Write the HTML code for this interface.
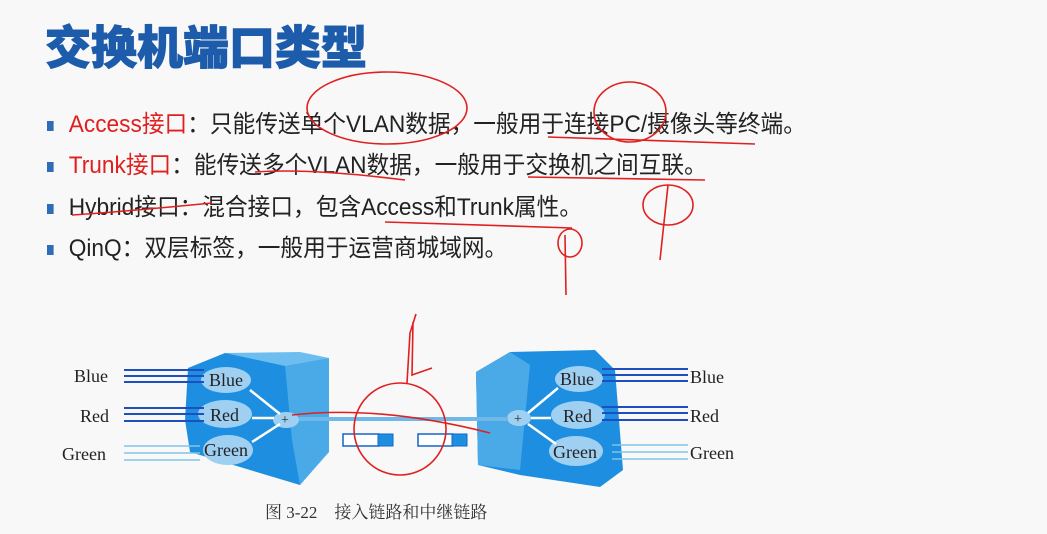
<!DOCTYPE html>
<html><head><meta charset="utf-8"><style>
body{margin:0;width:1047px;height:534px;background:#f8f8f8;overflow:hidden;position:relative;font-family:"Liberation Sans","Noto Sans CJK SC",sans-serif}
.t{position:absolute;left:45px;top:12px;font-size:46px;font-weight:900;color:#1d5bab;letter-spacing:0px;-webkit-text-stroke:1px #1d5bab}
.b{position:absolute;left:47px;font-size:24px;color:#222;white-space:nowrap;transform:scaleX(0.945);transform-origin:left}
.b i{display:inline-block;width:7px;height:10px;background:#2f6db8;margin-right:16px;vertical-align:middle}
.r{color:#e02020}
svg{position:absolute;left:0;top:0}
</style></head><body>
<div class="t">交换机端口类型</div>
<div class="b" style="top:104px"><i></i><span class="r">Access接口</span>：只能传送单个VLAN数据，一般用于连接PC/摄像头等终端。</div>
<div class="b" style="top:145px"><i></i><span class="r">Trunk接口</span>：能传送多个VLAN数据，一般用于交换机之间互联。</div>
<div class="b" style="top:187px"><i></i>Hybrid接口：混合接口，包含Access和Trunk属性。</div>
<div class="b" style="top:228px"><i></i>QinQ：双层标签，一般用于运营商城域网。</div>
<svg width="1047" height="534" font-family="Liberation Serif,serif">
<polygon points="188,368 225,353 300,356 329,362 329,450 300,485 250,470 190,452 185,420" fill="#1e8fe0"/>
<polygon points="285,365 329,358 329,452 300,485 292,440" fill="#4aaae8"/>
<polygon points="225,353 300,352 329,358 285,366" fill="#6dbdf0"/>
<polygon points="476,372 510,352 595,350 615,370 623,470 600,487 520,475 478,465" fill="#1e8fe0"/>
<polygon points="476,372 510,352 530,365 520,470 478,465" fill="#4aaae8"/>
<g fill="#9fd0f2">
<ellipse cx="226" cy="380" rx="25" ry="13"/><ellipse cx="225" cy="414" rx="27" ry="14"/><ellipse cx="228" cy="450" rx="25" ry="15"/>
<ellipse cx="579" cy="379" rx="24" ry="13"/><ellipse cx="578" cy="415" rx="27" ry="14"/><ellipse cx="576" cy="451" rx="27" ry="15"/>
<ellipse cx="286" cy="420" rx="13" ry="8"/><ellipse cx="519" cy="418" rx="12" ry="8"/>
</g>
<g stroke="#fff" stroke-width="2.5"><line x1="250" y1="390" x2="280" y2="414"/><line x1="252" y1="418" x2="274" y2="418"/><line x1="252" y1="442" x2="280" y2="424"/>
<line x1="528" y1="413" x2="558" y2="388"/><line x1="531" y1="418" x2="551" y2="418"/><line x1="528" y1="424" x2="556" y2="444"/></g>
<line x1="299" y1="419" x2="508" y2="419" stroke="#6fb8e8" stroke-width="4"/>
<g font-size="18" fill="#222"><text x="209" y="386">Blue</text><text x="210" y="421">Red</text><text x="204" y="456">Green</text>
<text x="560" y="385">Blue</text><text x="563" y="422">Red</text><text x="553" y="458">Green</text>
<text x="281" y="424" font-size="14">+</text><text x="514" y="423" font-size="14">+</text>
<text x="74" y="382">Blue</text><text x="80" y="422">Red</text><text x="62" y="460">Green</text>
<text x="690" y="383">Blue</text><text x="690" y="422">Red</text><text x="690" y="459">Green</text></g>
<g stroke="#1d4fc0" stroke-width="2"><line x1="124" y1="370" x2="204" y2="370"/><line x1="124" y1="376" x2="204" y2="376"/><line x1="124" y1="382" x2="204" y2="382"/>
<line x1="124" y1="408" x2="204" y2="408"/><line x1="124" y1="414" x2="204" y2="414"/><line x1="124" y1="421" x2="204" y2="421"/>
<line x1="602" y1="369" x2="688" y2="369"/><line x1="602" y1="375" x2="688" y2="375"/><line x1="602" y1="381" x2="688" y2="381"/>
<line x1="602" y1="407" x2="688" y2="407"/><line x1="602" y1="413" x2="688" y2="413"/><line x1="602" y1="420" x2="688" y2="420"/></g>
<g stroke="#7fc4e8" stroke-width="1.5"><line x1="124" y1="446" x2="200" y2="446"/><line x1="124" y1="453" x2="200" y2="453"/><line x1="124" y1="460" x2="200" y2="460"/>
<line x1="612" y1="445" x2="688" y2="445"/><line x1="612" y1="452" x2="688" y2="452"/><line x1="612" y1="459" x2="688" y2="459"/></g>
<g stroke="#1565c8" stroke-width="1.5" fill="#fff">
<rect x="343" y="434" width="36" height="12"/><rect x="418" y="434" width="35" height="12"/></g>
<rect x="378" y="434" width="15" height="12" fill="#1e8fe0" stroke="#1565c8"/><rect x="452" y="434" width="15" height="12" fill="#1e8fe0" stroke="#1565c8"/>
<text x="265" y="518" font-size="17" fill="#333" font-family="Liberation Serif,Noto Serif CJK SC,serif">图 3-22　接入链路和中继链路</text>
<g fill="none" stroke="#e02020" stroke-width="1.6">
<ellipse cx="400" cy="429" rx="46" ry="46"/>
<path d="M407 383 L410 333 L416 314 M413 322 L412 375 L432 368"/>
<path d="M292 415 Q380 405 490 433"/>
<ellipse cx="387" cy="108" rx="80" ry="36"/>
<ellipse cx="630" cy="112" rx="36" ry="30"/>
<path d="M548 137 L755 144 M255 172 Q310 168 405 180 M528 177 L705 180 M72 215 Q120 212 212 203 M385 222 L572 228"/>
<ellipse cx="668" cy="205" rx="25" ry="20"/><path d="M668 185 L660 260"/>
<ellipse cx="570" cy="243" rx="12" ry="14"/><path d="M565 235 L566 295"/>
</g>
</svg>
</body></html>
